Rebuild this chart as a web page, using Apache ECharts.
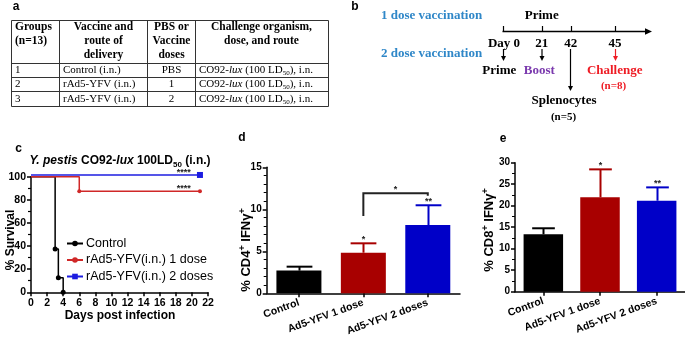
<!DOCTYPE html>
<html><head><meta charset="utf-8">
<script src="https://cdn.jsdelivr.net/npm/echarts@6/dist/echarts.min.js"></script>
<style>html,body{margin:0;padding:0;background:#fff}#c{width:685px;height:337px}</style>
</head><body><div id="c"></div>
<script>
// ---------- data ----------
const tableHeader = [['Groups','(n=13)'], ['Vaccine and','route of','delivery'], ['PBS or','Vaccine','doses'], ['Challenge organism,','dose, and route']];
const tableGroups = ['1','2','3'];
const tableVaccines = ['Control (i.n.)','rAd5-YFV (i.n.)','rAd5-YFV (i.n.)'];
const tableDoses = ['PBS','1','2'];
const tableChallenge = ['CO92-lux (100 LD50), i.n.','CO92-lux (100 LD50), i.n.','CO92-lux (100 LD50), i.n.'];

const timelineDays = ['Day 0','21','42','45'];

const survivalNames = ['Control','rAd5-YFV(i.n.) 1 dose','rAd5-YFV(i.n.) 2 doses'];
const survControl = [[0,100],[3,37.5],[3.4,12.5],[4,0]];
const survOneDose = [[0,100],[6,87.5],[21,87.5]];
const survTwoDose = [[0,101.5],[21,101.5]];
const survStars = [[19.0,101.5,'****'],[19.0,87.5,'****']];
const survXTicks = [0,22,2];

const barCats = ['Control','Ad5-YFV 1 dose','Ad5-YFV 2 doses'];
const cd4Mean = [2.7, 4.83, 8.13];
const cd4Err  = [0.47, 1.12, 2.35];
const cd4Stars = ['', '*', '**'];
const cd4Bracket = [1, 2, 9.2, 11.9, 11.6, '*'];
const cd8Mean = [13.35, 21.95, 21.16];
const cd8Err  = [1.4, 6.5, 3.1];
const cd8Stars = ['', '*', '**'];

// ---------- styles ----------
const SANS = '"Liberation Sans", Arial, sans-serif';
const SERIF = '"Liberation Serif", "Times New Roman", serif';
const barColors = ['#000000','#a80000','#0000c8'];
const survColors = ['#000000','#d02828','#1c1ce0'];

function txt(x, y, text, o) {
  o = o || {};
  const st = {
    text: text, fontSize: o.size || 11, fontWeight: o.weight || 'normal',
    fontFamily: o.family || SANS, fill: o.color || '#000',
    align: o.align || 'center', textAlign: o.align || 'center',
    verticalAlign: o.va || 'middle', textVerticalAlign: o.va || 'middle',
    fontStyle: o.style || 'normal'
  };
  if (o.rich) st.rich = o.rich;
  return {type: 'text', x: x, y: y, rotation: o.rot || 0, z: 100, style: st};
}
function ln(x1, y1, x2, y2, color, w) {
  return {type: 'line', z: 90, shape: {x1, y1, x2, y2}, style: {stroke: color || '#000', lineWidth: w || 1}};
}
function arrowDown(x, y1, y2, color) {
  return [ln(x, y1, x, y2 - 4, color, 1.2),
    {type: 'polygon', z: 90, shape: {points: [[x - 2.5, y2 - 5], [x + 2.5, y2 - 5], [x, y2]]}, style: {fill: color}}];
}

const graphics = [];
// panel letters
graphics.push(txt(16, 7, 'a', {size: 12, weight: 'bold'}));
graphics.push(txt(355, 7, 'b', {size: 12, weight: 'bold'}));
graphics.push(txt(18.5, 149, 'c', {size: 12, weight: 'bold'}));
graphics.push(txt(242, 138, 'd', {size: 12, weight: 'bold'}));
graphics.push(txt(503, 139, 'e', {size: 12, weight: 'bold'}));

// ---------- table (panel a) ----------
const colX = [11.5, 59.5, 147.5, 195.5, 328.5];
const rowY = [20.5, 63.5, 77.5, 91.5, 106.5];
rowY.forEach(y => graphics.push(ln(colX[0], y, colX[4], y, '#333', 1)));
colX.forEach(x => graphics.push(ln(x, rowY[0], x, rowY[4], '#333', 1)));
const hdrX = [[15,'left'], [103.5,'center'], [171.5,'center'], [261.5,'center']];
const hdrRich = {size: 11.5, weight: 'bold', family: SERIF};
tableHeader.forEach((lines, c) => {
  lines.forEach((t, k) => graphics.push(txt(hdrX[c][0], 27 + k * 14, t, Object.assign({align: hdrX[c][1]}, hdrRich))));
});
const serifRich = {
  n: {fontSize: 11, fontFamily: SERIF, lineHeight: 13},
  i: {fontSize: 11, fontFamily: SERIF, fontStyle: 'italic', lineHeight: 13},
  s: {fontSize: 7, fontFamily: SERIF, lineHeight: 7, verticalAlign: 'bottom'}
};
function challengeRich(s) {
  return s.replace(/^(CO92-)lux( \(100 LD)50(\), i\.n\.)$/, '{n|$1}{i|lux}{n|$2}{s|50}{n|$3}');
}
for (let r = 0; r < 3; r++) {
  const y = (rowY[r + 1] + rowY[r + 2]) / 2;
  graphics.push(txt(15, y, tableGroups[r], {align: 'left', size: 11, family: SERIF}));
  graphics.push(txt(63, y, tableVaccines[r], {align: 'left', size: 11, family: SERIF}));
  graphics.push(txt(171.5, y, tableDoses[r], {align: 'center', size: 11, family: SERIF}));
  graphics.push(txt(199, y, challengeRich(tableChallenge[r]), {align: 'left', size: 11, family: SERIF, rich: serifRich}));
}

// ---------- timeline (panel b) ----------
const tlBlue = '#2f87c8', tlPurple = '#7b3aae', tlRed = '#ee1c24';
const tlX = [503, 541.7, 570.7, 615];
graphics.push(txt(381, 16, '1 dose vaccination', {align: 'left', size: 13, weight: 'bold', family: SERIF, color: tlBlue}));
graphics.push(txt(381, 53.5, '2 dose vaccination', {align: 'left', size: 13, weight: 'bold', family: SERIF, color: tlBlue}));
graphics.push(txt(541.7, 16, 'Prime', {size: 13, weight: 'bold', family: SERIF}));
graphics.push(ln(502.5, 31.5, 646, 31.5, '#000', 1.5));
graphics.push({type: 'polygon', z: 90, shape: {points: [[645, 28.3], [645, 34.7], [652, 31.5]]}, style: {fill: '#000'}});
tlX.forEach(x => graphics.push(ln(Math.round(x) + 0.5, 26, Math.round(x) + 0.5, 31.5, '#000', 1.2)));
timelineDays.forEach((d, i) => graphics.push(txt(i === 0 ? 504 : tlX[i], 43.5, d, {size: 13, weight: 'bold', family: SERIF})));
graphics.push(...arrowDown(503.5, 49, 61, '#000'));
graphics.push(...arrowDown(542, 49, 61, '#000'));
graphics.push(...arrowDown(570.5, 49, 91, '#000'));
graphics.push(...arrowDown(615.5, 49, 61, tlRed));
graphics.push(txt(499.3, 70.5, 'Prime', {size: 13, weight: 'bold', family: SERIF}));
graphics.push(txt(539.3, 70.5, 'Boost', {size: 13, weight: 'bold', family: SERIF, color: tlPurple}));
graphics.push(txt(614.7, 70.5, 'Challenge', {size: 13, weight: 'bold', family: SERIF, color: tlRed}));
graphics.push(txt(613.5, 86.5, '(n=8)', {size: 11, weight: 'bold', family: SERIF, color: tlRed}));
graphics.push(txt(564, 100.5, 'Splenocytes', {size: 13, weight: 'bold', family: SERIF}));
graphics.push(txt(563.5, 117, '(n=5)', {size: 11, weight: 'bold', family: SERIF}));

// ---------- panel c titles ----------
graphics.push(txt(120, 161, '{i|Y. pestis}{b| CO92-}{bi|lux}{b| 100LD}{s|50}{b| (i.n.)}', {size: 12, weight: 'bold', rich: {
  i: {fontSize: 12, fontWeight: 'bold', fontStyle: 'italic', fontFamily: SANS, lineHeight: 15},
  bi: {fontSize: 12, fontWeight: 'bold', fontStyle: 'italic', fontFamily: SANS, lineHeight: 15},
  b: {fontSize: 12, fontWeight: 'bold', fontFamily: SANS, lineHeight: 15},
  s: {fontSize: 8, fontWeight: 'bold', fontFamily: SANS, lineHeight: 8, verticalAlign: 'bottom'}
}}));
graphics.push(txt(11, 240, '% Survival', {size: 12, weight: 'bold', rot: Math.PI / 2}));
graphics.push(txt(120, 316, 'Days post infection', {size: 12, weight: 'bold'}));
const supRich = {
  b: {fontSize: 13, fontWeight: 'bold', fontFamily: SANS, lineHeight: 16},
  p: {fontSize: 9, fontWeight: 'bold', fontFamily: SANS, lineHeight: 9, verticalAlign: 'top'}
};
graphics.push(txt(246, 250, '{b|% CD4}{p|+}{b| IFNγ}{p|+}', {rot: Math.PI / 2, rich: supRich}));
graphics.push(txt(489, 230, '{b|% CD8}{p|+}{b| IFNγ}{p|+}', {rot: Math.PI / 2, rich: supRich}));

// ---------- custom renderers ----------
function makeErrRender(colors, stars) {
  return function (params, api) {
    const i = api.value(0), m = api.value(1), e = api.value(2);
    const base = api.coord([i, m]);
    const top = api.coord([i, m + e]);
    const bw = api.size([1, 0])[0];
    const half = bw * 0.2;
    const x = Math.round(top[0]) + 0.5;
    const col = colors[params.dataIndex];
    const ch = [
      {type: 'line', shape: {x1: x, y1: base[1], x2: x, y2: top[1]}, style: {stroke: col, lineWidth: 2}},
      {type: 'line', shape: {x1: x - half, y1: top[1], x2: x + half, y2: top[1]}, style: {stroke: col, lineWidth: 2}}
    ];
    const s = stars[params.dataIndex];
    if (s) ch.push({type: 'text', x: x, y: top[1] + 1, style: {text: s, fontSize: 9, fontWeight: 'bold', fontFamily: SANS, fill: '#222', align: 'center', verticalAlign: 'bottom'}});
    return {type: 'group', children: ch};
  };
}

const axisLineStyle = {lineStyle: {color: '#000', width: 1.5}};
const tickStyle = {show: true, length: 4, lineStyle: {color: '#000', width: 1.5}};
const labStyle = {color: '#000', fontWeight: 'bold', fontFamily: SANS, fontSize: 10.5};

const option = {
  animation: false,
  textStyle: {fontFamily: SANS},
  graphic: graphics,
  legend: {
    data: survivalNames, orient: 'vertical', left: 66, top: 237, itemWidth: 16, itemHeight: 7, itemGap: 3.5, padding: 0,
    textStyle: {fontSize: 12.5, color: '#000', fontFamily: SANS, padding: [0, 0, 0, -2]}
  },
  grid: [
    {left: 31, top: 176.7, width: 177, height: 115.6, containLabel: false, outerBoundsMode: 'none'},
    {left: 266.7, top: 167.3, width: 193.3, height: 126, containLabel: false, outerBoundsMode: 'none'},
    {left: 515, top: 162.7, width: 170, height: 129, containLabel: false, outerBoundsMode: 'none'}
  ],
  xAxis: [
    {type: 'value', gridIndex: 0, min: survXTicks[0], max: survXTicks[1], interval: survXTicks[2], splitLine: {show: false},
      axisLine: axisLineStyle, axisTick: tickStyle, axisLabel: Object.assign({margin: 5}, labStyle)},
    {type: 'category', gridIndex: 1, data: barCats, axisLine: axisLineStyle,
      axisTick: Object.assign({alignWithLabel: true}, tickStyle),
      axisLabel: Object.assign({}, labStyle, {fontSize: 10.5, rotate: 20, margin: 9, interval: 0})},
    {type: 'category', gridIndex: 2, data: barCats, axisLine: axisLineStyle,
      axisTick: Object.assign({alignWithLabel: true}, tickStyle),
      axisLabel: Object.assign({}, labStyle, {fontSize: 10.5, rotate: 20, margin: 9, interval: 0})}
  ],
  yAxis: [
    {type: 'value', gridIndex: 0, min: 0, max: 100, interval: 20, splitLine: {show: false},
      axisLine: Object.assign({show: true}, axisLineStyle), axisTick: tickStyle,
      minorTick: {show: true, splitNumber: 2, length: 3, lineStyle: {color: '#000', width: 1.2}},
      axisLabel: Object.assign({margin: 5}, labStyle)},
    {type: 'value', gridIndex: 1, min: 0, max: 15, interval: 5, splitLine: {show: false},
      axisLine: Object.assign({show: true}, axisLineStyle), axisTick: tickStyle,
      minorTick: {show: true, splitNumber: 5, length: 3, lineStyle: {color: '#000', width: 1}},
      axisLabel: Object.assign({margin: 5}, labStyle, {fontSize: 10})},
    {type: 'value', gridIndex: 2, min: 0, max: 30, interval: 5, splitLine: {show: false},
      axisLine: Object.assign({show: true}, axisLineStyle), axisTick: tickStyle,
      minorTick: {show: true, splitNumber: 2, length: 3, lineStyle: {color: '#000', width: 1}},
      axisLabel: Object.assign({margin: 5}, labStyle, {fontSize: 10})}
  ],
  series: [
    {name: survivalNames[0], type: 'line', xAxisIndex: 0, yAxisIndex: 0, step: 'end', clip: false,
      data: survControl.map((p, i) => i === 0 ? {value: p, symbol: 'none'} : p),
      symbol: 'circle', symbolSize: 5, color: survColors[0], lineStyle: {width: 1.5, color: survColors[0]}, itemStyle: {color: survColors[0]}, z: 3},
    {name: survivalNames[1], type: 'line', xAxisIndex: 0, yAxisIndex: 0, step: 'end', clip: false,
      data: survOneDose.map((p, i) => i === 0 ? {value: p, symbol: 'none'} : p),
      symbol: 'circle', symbolSize: 4, color: survColors[1], lineStyle: {width: 1.5, color: survColors[1]}, itemStyle: {color: survColors[1]}, z: 4},
    {name: survivalNames[2], type: 'line', xAxisIndex: 0, yAxisIndex: 0, step: 'end', clip: false,
      data: survTwoDose.map((p, i) => i === 0 ? {value: p, symbol: 'none'} : p),
      symbol: 'rect', symbolSize: 6, color: survColors[2], lineStyle: {width: 1.5, color: survColors[2]}, itemStyle: {color: survColors[2]}, z: 5},
    {type: 'custom', xAxisIndex: 0, yAxisIndex: 0, data: survStars.map(s => [s[0], s[1]]), clip: false, z: 6,
      renderItem: function (params, api) {
        const p = api.coord([api.value(0), api.value(1)]);
        return {type: 'text', x: p[0], y: p[1] + 2, style: {text: survStars[params.dataIndex][2], fontSize: 9, fontWeight: 'bold', fontFamily: SANS, fill: '#222', align: 'center', verticalAlign: 'bottom'}};
      }},
    {type: 'bar', xAxisIndex: 1, yAxisIndex: 1, barWidth: 45,
      data: cd4Mean.map((v, i) => ({value: v, itemStyle: {color: barColors[i]}}))},
    {type: 'custom', xAxisIndex: 1, yAxisIndex: 1, z: 5, clip: false,
      data: cd4Mean.map((v, i) => [i, v, cd4Err[i]]),
      renderItem: makeErrRender(barColors, cd4Stars)},
    {type: 'custom', xAxisIndex: 1, yAxisIndex: 1, z: 5, clip: false,
      data: [[cd4Bracket[0], cd4Bracket[1], cd4Bracket[2], cd4Bracket[3], cd4Bracket[4]]],
      renderItem: function (params, api) {
        const a = api.coord([api.value(0), api.value(2)]);
        const b = api.coord([api.value(0), api.value(3)]);
        const c = api.coord([api.value(1), api.value(3)]);
        const d = api.coord([api.value(1), api.value(4)]);
        return {type: 'group', children: [
          {type: 'polyline', shape: {points: [a, b, c, d]}, style: {stroke: '#222', lineWidth: 2, fill: null}},
          {type: 'text', x: (b[0] + c[0]) / 2, y: b[1] + 1, style: {text: cd4Bracket[5], fontSize: 9, fontWeight: 'bold', fontFamily: SANS, fill: '#222', align: 'center', verticalAlign: 'bottom'}}
        ]};
      }},
    {type: 'bar', xAxisIndex: 2, yAxisIndex: 2, barWidth: 39.5,
      data: cd8Mean.map((v, i) => ({value: v, itemStyle: {color: barColors[i]}}))},
    {type: 'custom', xAxisIndex: 2, yAxisIndex: 2, z: 5, clip: false,
      data: cd8Mean.map((v, i) => [i, v, cd8Err[i]]),
      renderItem: makeErrRender(barColors, cd8Stars)}
  ]
};
const chart = echarts.init(document.getElementById('c'), null, {renderer: 'canvas'});
chart.setOption(option);
</script>
</body></html>
